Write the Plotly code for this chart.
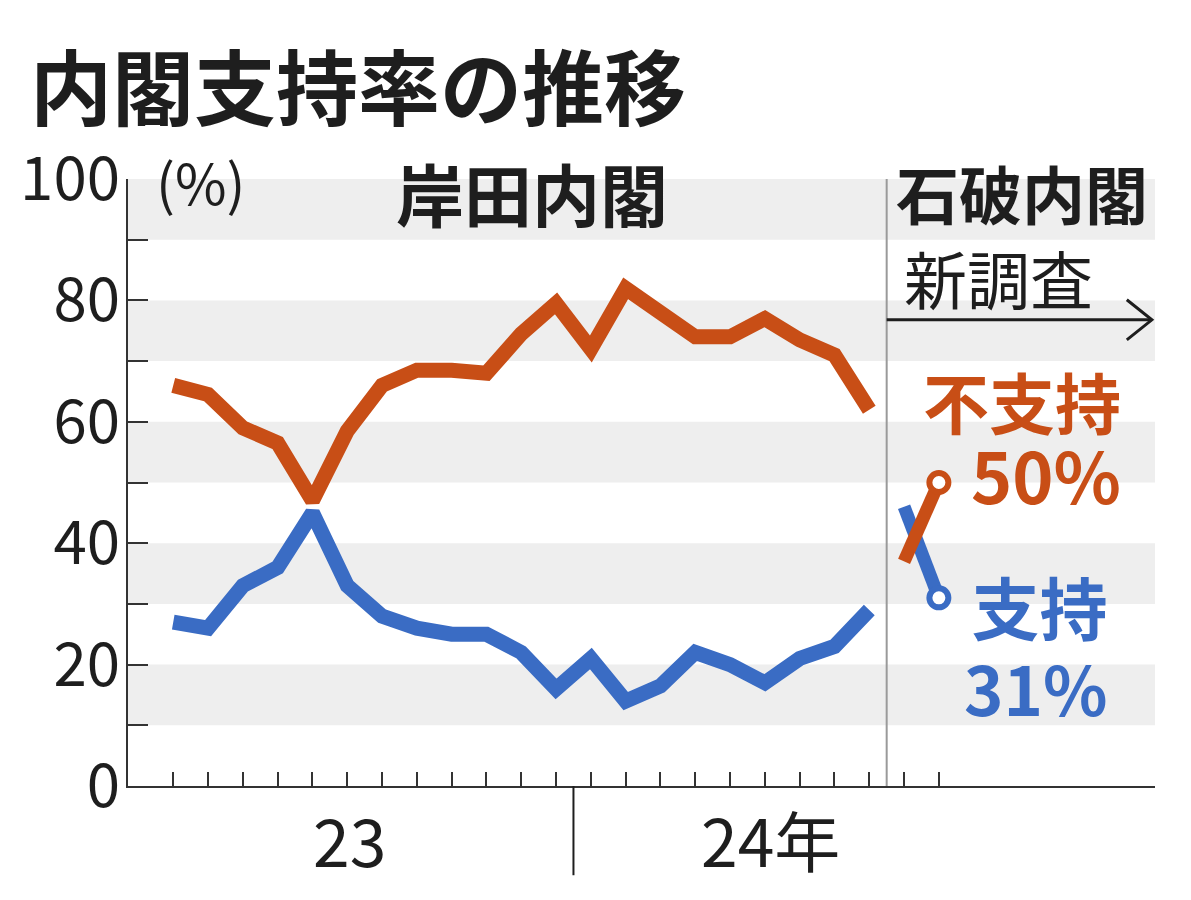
import plotly.graph_objects as go

# monthly survey, Jan 2023 .. Nov 2024 (index 0 = 2023-01)
kishida_months = list(range(0, 21))
kishida_support = [27, 26, 33, 36, 45, 33, 28, 26, 25, 25, 22, 16, 21, 14, 16.5, 22, 20, 17, 21, 23, 29]
kishida_oppose = [66, 64.5, 59, 56.5, 47, 58.5, 66, 68.5, 68.5, 68, 74.5, 79.5, 72, 82, 78, 74, 74, 77, 73.5, 71, 62]

ishiba_months = [21, 22]
ishiba_support = [46, 31]
ishiba_oppose = [37, 50]

year_labels = ["23", "24年"]
year_label_pos = [5.07, 17.15]
year_break = 11.5
cabinet_break = 20.5
grey_bands = [10, 30, 50, 70, 90]
y_ticks = list(range(0, 101, 10))
y_ticktext = [str(v) if v % 20 == 0 else "" for v in y_ticks]

ORANGE = "#C84E16"
BLUE = "#3A6CC4"
INK = "#1e1e1e"
JP = "Noto Sans CJK JP"

fig = go.Figure()

fig.add_trace(go.Scatter(x=kishida_months, y=kishida_support, mode="lines",
                         line=dict(color=BLUE, width=15), hoverinfo="skip"))
fig.add_trace(go.Scatter(x=kishida_months, y=kishida_oppose, mode="lines",
                         line=dict(color=ORANGE, width=15), hoverinfo="skip"))
fig.add_trace(go.Scatter(x=ishiba_months, y=ishiba_support, mode="lines+markers",
                         line=dict(color=BLUE, width=13),
                         marker=dict(size=[0, 19], color="white", opacity=1,
                                     line=dict(color=BLUE, width=6)),
                         hoverinfo="skip"))
fig.add_trace(go.Scatter(x=ishiba_months, y=ishiba_oppose, mode="lines+markers",
                         line=dict(color=ORANGE, width=13),
                         marker=dict(size=[0, 19], color="white", opacity=1,
                                     line=dict(color=ORANGE, width=6)),
                         hoverinfo="skip"))

shapes = []
for b in grey_bands:
    shapes.append(dict(type="rect", xref="paper", yref="y", x0=0, x1=1, y0=b, y1=b + 10,
                       fillcolor="#EEEEEE", line=dict(width=0), layer="below"))
# cabinet change
shapes.append(dict(type="line", xref="x", yref="y", x0=cabinet_break, x1=cabinet_break, y0=0, y1=100,
                   line=dict(color="#9a9a9a", width=2), layer="below"))
# year divider under the axis
shapes.append(dict(type="line", xref="x", yref="paper", x0=year_break, x1=year_break, y0=0, y1=-0.147,
                   line=dict(color=INK, width=2)))
# "new survey" arrow
shapes.append(dict(type="line", xref="x", yref="y", x0=cabinet_break, x1=28.12, y0=76.8, y1=76.8,
                   line=dict(color=INK, width=3)))
shapes.append(dict(type="path", xref="x", yref="y", path="M 27.4,80.1 L 28.12,76.8 L 27.4,73.5",
                   line=dict(color=INK, width=3)))

annotations = [
    dict(text="岸田内閣", x=10.3, y=97.7, font=dict(family=JP, size=68, color=INK, weight=700)),
    dict(text="石破内閣", x=24.4, y=97.9, font=dict(family=JP, size=63, color=INK, weight=700)),
    dict(text="新調査", x=23.7, y=83.9, font=dict(family=JP, size=63, color=INK)),
    dict(text="<span style='font-size:66px'>不支持</span><br><span style='font-size:70px'>50%</span>",
         x=27.29, y=57.3, xanchor="right", align="right",
         font=dict(family=JP, size=58, color=ORANGE, weight=700)),
    dict(text="<span style='font-size:68px'>支持</span><br><span style='font-size:67px'>31%</span>",
         x=26.91, y=23.2, xanchor="right", align="right",
         font=dict(family=JP, size=62, color=BLUE, weight=700)),
    dict(text="(%)", x=0.77, y=99.7, font=dict(family=JP, size=56, color=INK)),
]
for a in annotations:
    a.setdefault("xanchor", "center")
    a.update(xref="x", yref="y", showarrow=False, yanchor="middle")
for lab, pos in zip(year_labels, year_label_pos):
    annotations.append(dict(text=lab, x=pos, xref="x", y=-0.0857, yref="paper",
                            showarrow=False, xanchor="center", yanchor="middle",
                            font=dict(family=JP, size=66, color=INK)))

# page body adds an 8px offset, so the figure is laid out 8px up/left
fig.update_layout(
    width=1191, height=900, autosize=False,
    margin=dict(l=120, r=44, t=171, b=122),
    paper_bgcolor="white", plot_bgcolor="white",
    showlegend=False,
    title=dict(text="内閣支持率の推移", x=22 / 1191, xanchor="left", xref="container",
               y=1 - 82 / 900, yanchor="middle", yref="container",
               font=dict(family=JP, size=82, color=INK, weight=700)),
    shapes=shapes, annotations=annotations,
    xaxis=dict(range=[-1.30, 28.21], showgrid=False, zeroline=False, automargin=False,
               showline=True, linecolor="#333", linewidth=2,
               tickvals=list(range(0, 23)), ticks="inside", ticklen=14, tickwidth=2, tickcolor="#333",
               showticklabels=False),
    yaxis=dict(range=[0, 100], showgrid=False, zeroline=False, automargin=False,
               showline=True, linecolor="#333", linewidth=2,
               tickvals=y_ticks, ticktext=y_ticktext, ticks="inside", ticklen=20, tickwidth=2,
               tickcolor="#333", ticklabelstandoff=-6,
               tickfont=dict(family=JP, size=60, color=INK)),
)

fig.write_html("out.html")
